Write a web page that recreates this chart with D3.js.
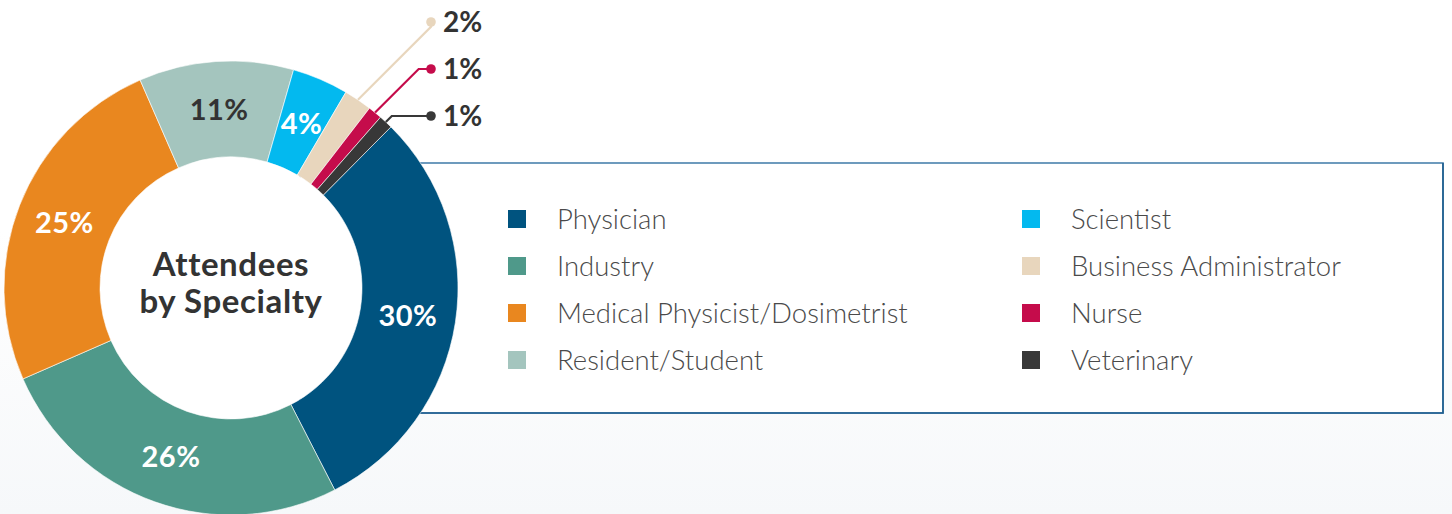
<!DOCTYPE html>
<html>
<head>
<meta charset="utf-8">
<script src="https://cdn.jsdelivr.net/npm/d3@7"></script>
<style>
  html, body { margin: 0; padding: 0; background: #ffffff; }
  svg { display: block; }
  text { font-family: Lato, "Open Sans", "DejaVu Sans", sans-serif; }
</style>
</head>
<body>
<svg id="chart" width="1452" height="514"></svg>
<script>
// ---- data ----
const categories = ["Physician", "Industry", "Medical Physicist/Dosimetrist", "Resident/Student",
                    "Scientist", "Business Administrator", "Nurse", "Veterinary"];
const values = [30, 26, 25, 11, 4, 2, 1, 1];
const colors = ["#00537f", "#4f998a", "#e9871f", "#a4c5be", "#03b9ef", "#e8d6bd", "#c50c4b", "#383838"];
const labelColors = ["#ffffff", "#ffffff", "#ffffff", "#333333", "#ffffff", null, null, null];
const calloutCategories = ["Business Administrator", "Nurse", "Veterinary"];
const titleLines = ["Attendees", "by Specialty"];

// ---- layout ----
const W = 1452, H = 514;
const cx = 231, cy = 288, R = 227, r0 = 131;
const svg = d3.select("#chart");

const defs = svg.append("defs");
const grad = defs.append("linearGradient").attr("id", "bg").attr("x1", 0).attr("y1", 0).attr("x2", 0).attr("y2", 1);
grad.append("stop").attr("offset", "0%").attr("stop-color", "#ffffff");
grad.append("stop").attr("offset", "45%").attr("stop-color", "#ffffff");
grad.append("stop").attr("offset", "100%").attr("stop-color", "#f6f8fa");
svg.append("rect").attr("width", W).attr("height", H).attr("fill", "url(#bg)");

// legend box
const box = {x: 300, y: 163, w: 1143, h: 250};
svg.append("rect").attr("x", box.x).attr("y", box.y).attr("width", box.w).attr("height", box.h)
  .attr("fill", "#ffffff").attr("stroke", "#4a82ad").attr("stroke-width", 1.6);
svg.append("path")
  .attr("d", `M${box.x},${box.y + box.h}H${box.x + box.w}V${box.y}`)
  .attr("fill", "none").attr("stroke", "#1f5e8e").attr("stroke-width", 1.6);

// legend items
const colX = [508, 1022], rowY0 = 219, rowStep = 47, sq = 18;
const leg = svg.append("g");
categories.forEach((c, i) => {
  const col = Math.floor(i / 4), row = i % 4;
  const x = colX[col], y = rowY0 + row * rowStep;
  leg.append("rect").attr("x", x).attr("y", y - sq / 2).attr("width", sq).attr("height", sq).attr("fill", colors[i]);
  leg.append("text").attr("x", x + 49).attr("y", y + 9.5)
    .attr("font-size", 27.5).attr("font-weight", 300).attr("fill", "#4a4a4a").text(c);
});

// donut
const startDeg = 44.8;
const pie = d3.pie().sort(null).value(d => d)
  .startAngle(startDeg * Math.PI / 180).endAngle((startDeg + 360) * Math.PI / 180);
const arcs = pie(values);
const arc = d3.arc().innerRadius(r0).outerRadius(R);
const labelArc = d3.arc().innerRadius(179).outerRadius(179);

const g = svg.append("g").attr("transform", `translate(${cx},${cy})`);
g.append("circle").attr("r", r0).attr("fill", "#ffffff");
g.selectAll("path.slice").data(arcs).enter().append("path")
  .attr("class", "slice").attr("d", arc)
  .attr("fill", (d, i) => colors[i])
  .attr("stroke", "#ffffff").attr("stroke-width", 0.6);

g.selectAll("text.pct").data(arcs.filter((d, i) => labelColors[i])).enter().append("text")
  .attr("class", "pct")
  .attr("transform", d => `translate(${labelArc.centroid(d)})`)
  .attr("text-anchor", "middle").attr("dy", "0.36em")
  .attr("font-size", 29).attr("font-weight", 700).attr("letter-spacing", 0.5)
  .attr("fill", d => labelColors[d.index])
  .text(d => d.value + "%");

// center title
g.selectAll("text.title").data(titleLines).enter().append("text")
  .attr("class", "title")
  .attr("x", 0).attr("y", (d, i) => -12 + i * 37)
  .attr("text-anchor", "middle")
  .attr("font-size", 33).attr("font-weight", 700).attr("letter-spacing", 0.6).attr("fill", "#333333")
  .text(d => d);

// callouts for small slices
const dotX = 200, dotY0 = -266, dotStep = 47;
calloutCategories.forEach((name, k) => {
  const i = categories.indexOf(name);
  const a = arcs[i];
  const mid = (a.startAngle + a.endAngle) / 2;
  const sx = Math.sin(mid) * R, sy = -Math.cos(mid) * R;
  const ty = dotY0 + k * dotStep;
  const ex = Math.min(dotX, sx + (sy - ty));
  const ey = sy - (ex - sx);
  const pts = [[sx, sy], [ex, ey], [dotX, ty]];
  g.append("path").attr("d", d3.line()(pts))
    .attr("fill", "none").attr("stroke", colors[i]).attr("stroke-width", 2.2);
  g.append("circle").attr("cx", dotX).attr("cy", ty).attr("r", 4.8).attr("fill", colors[i]);
  g.append("text").attr("x", dotX + 12).attr("y", ty).attr("dy", "0.36em")
    .attr("font-size", 28).attr("font-weight", 700).attr("fill", "#333333")
    .text(values[i] + "%");
});
</script>
</body>
</html>
